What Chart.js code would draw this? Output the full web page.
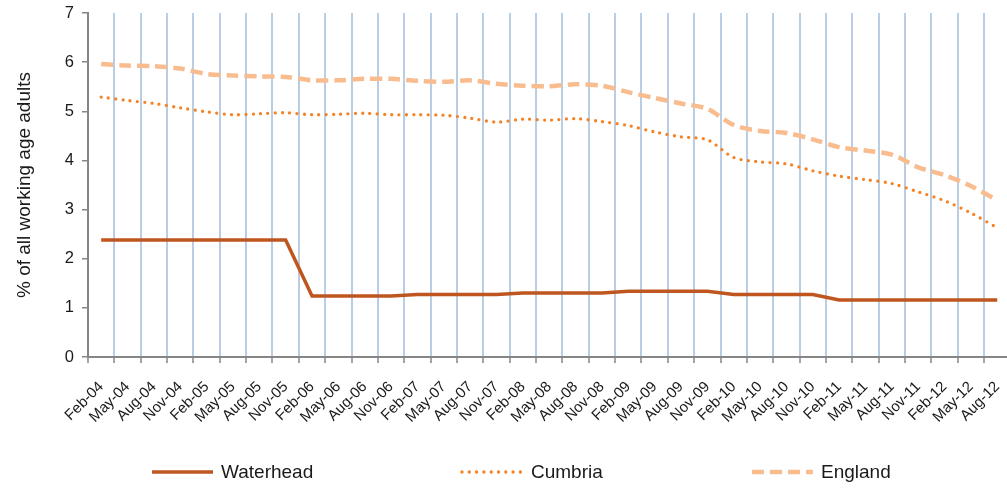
<!DOCTYPE html>
<html>
<head>
<meta charset="utf-8">
<script src="https://cdn.jsdelivr.net/npm/chart.js@4"></script>
<style>
  body { margin: 0; overflow: hidden; background: #fff; }
  #wrap { width: 1025px; height: 488px; position: relative; }
</style>
</head>
<body>
<div id="wrap"><canvas id="chart"></canvas></div>
<script>
const labels = [
  'Feb-04', 'May-04', 'Aug-04', 'Nov-04', 'Feb-05', 'May-05', 'Aug-05', 'Nov-05',
  'Feb-06', 'May-06', 'Aug-06', 'Nov-06', 'Feb-07', 'May-07', 'Aug-07', 'Nov-07',
  'Feb-08', 'May-08', 'Aug-08', 'Nov-08', 'Feb-09', 'May-09', 'Aug-09', 'Nov-09',
  'Feb-10', 'May-10', 'Aug-10', 'Nov-10', 'Feb-11', 'May-11', 'Aug-11', 'Nov-11',
  'Feb-12', 'May-12', 'Aug-12'
];

const waterhead = [
  2.38, 2.38, 2.38, 2.38, 2.38, 2.38, 2.38, 2.38,
  1.24, 1.24, 1.24, 1.24, 1.27, 1.27, 1.27, 1.27,
  1.30, 1.30, 1.30, 1.30, 1.34, 1.34, 1.34, 1.34,
  1.27, 1.27, 1.27, 1.27, 1.16, 1.16, 1.16, 1.16,
  1.16, 1.16, 1.16
];

const cumbria = [
  5.29, 5.22, 5.16, 5.07, 4.99, 4.93, 4.95, 4.97,
  4.93, 4.94, 4.96, 4.93, 4.93, 4.92, 4.86, 4.78,
  4.84, 4.82, 4.85, 4.79, 4.71, 4.58, 4.48, 4.42,
  4.06, 3.97, 3.93, 3.79, 3.68, 3.61, 3.53, 3.36,
  3.18, 2.93, 2.63
];

const england = [
  5.96, 5.93, 5.92, 5.87, 5.76, 5.73, 5.71, 5.70,
  5.63, 5.63, 5.66, 5.66, 5.62, 5.60, 5.63, 5.56,
  5.52, 5.51, 5.55, 5.52, 5.39, 5.27, 5.16, 5.05,
  4.72, 4.60, 4.56, 4.43, 4.27, 4.20, 4.12, 3.86,
  3.70, 3.48, 3.19
];

const yTicks = [0, 1, 2, 3, 4, 5, 6, 7];

const FONT = "'Liberation Sans', Arial, sans-serif";
const TEXT = '#1a1a1a';
const AXIS = '#868686';

// legend drawn by hand so the items can sit far apart like the original
const legendPlugin = {
  id: 'wideLegend',
  afterDraw(chart) {
    const ctx = chart.ctx;
    const xs = [152, 462, 752];
    const y = 472;
    ctx.save();
    chart.data.datasets.forEach(function (ds, i) {
      ctx.beginPath();
      ctx.strokeStyle = ds.borderColor;
      ctx.lineWidth = ds.borderWidth;
      ctx.lineCap = ds.borderCapStyle || 'butt';
      ctx.setLineDash(ds.borderDash || []);
      ctx.moveTo(xs[i], y);
      ctx.lineTo(xs[i] + 61, y);
      ctx.stroke();
      ctx.setLineDash([]);
      ctx.fillStyle = TEXT;
      ctx.font = '19px ' + FONT;
      ctx.textBaseline = 'middle';
      ctx.fillText(ds.label, xs[i] + 69, y + 1);
    });
    ctx.restore();
  }
};

new Chart(document.getElementById('chart'), {
  type: 'line',
  data: {
    labels: labels,
    datasets: [
      {
        label: 'Waterhead',
        data: waterhead,
        borderColor: '#C0561F',
        borderWidth: 3.5,
        tension: 0,
        pointRadius: 0
      },
      {
        label: 'Cumbria',
        data: cumbria,
        borderColor: '#F58225',
        borderWidth: 3.3,
        borderDash: [0, 7.3],
        borderCapStyle: 'round',
        tension: 0.3,
        pointRadius: 0
      },
      {
        label: 'England',
        data: england,
        borderColor: '#F9BC8F',
        borderWidth: 4.5,
        borderDash: [12, 6],
        tension: 0.3,
        pointRadius: 0
      }
    ]
  },
  options: {
    responsive: true,
    maintainAspectRatio: false,
    animation: false,
    layout: { padding: { top: 13, right: 0, left: 13, bottom: 0 } },
    plugins: {
      legend: { display: false },
      tooltip: { enabled: false }
    },
    scales: {
      x: {
        offset: true,
        grid: {
          offset: true,
          color: function (c) { return c.index === 0 ? 'rgba(0,0,0,0)' : '#B9CDE5'; },
          lineWidth: 2,
          tickColor: AXIS,
          tickLength: 6,
          tickWidth: 1.5
        },
        border: { color: AXIS, width: 2 },
        ticks: {
          autoSkip: false,
          maxRotation: 45,
          minRotation: 45,
          padding: 15,
          color: TEXT,
          font: { family: FONT, size: 15 }
        },
        afterFit: function (s) { s.height = 131; }
      },
      y: {
        min: 0,
        max: 7,
        afterBuildTicks: function (s) { s.ticks = yTicks.map(function (v) { return { value: v }; }); },
        grid: {
          drawOnChartArea: false,
          color: AXIS,
          tickLength: 6,
          lineWidth: 1.5
        },
        border: { color: AXIS, width: 2 },
        ticks: {
          padding: 8,
          color: TEXT,
          font: { family: FONT, size: 16.5 }
        },
        title: {
          display: true,
          text: '% of all working age adults',
          color: TEXT,
          font: { family: FONT, size: 19 },
          padding: { top: 0, bottom: 6 }
        },
        afterFit: function (s) { s.width = 75; s.paddingTop = 0; }
      }
    }
  },
  plugins: [legendPlugin]
});
</script>
</body>
</html>
